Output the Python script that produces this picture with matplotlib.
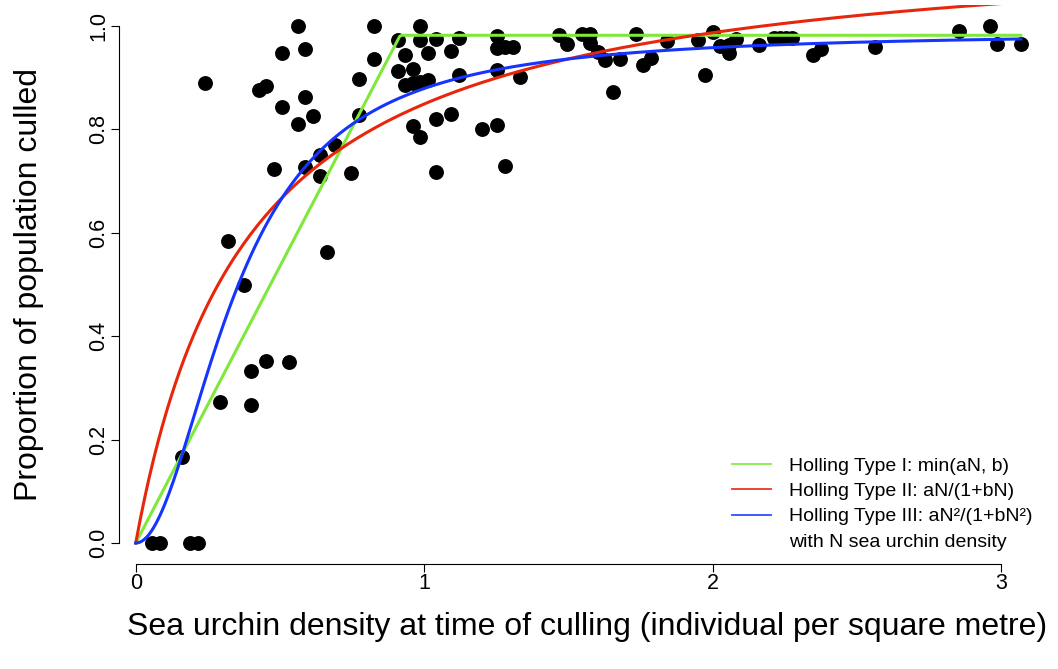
## Holling functional response fits to sea urchin culling data
import numpy as np
import matplotlib.pyplot as plt

plt.rcParams['font.family'] = ['Liberation Sans', 'DejaVu Sans']

density = [0.056, 0.083, 0.187, 0.216, 0.160, 0.293, 0.400, 0.320, 0.374, 0.663,
           0.400, 0.452, 0.533, 0.561, 0.507, 0.588, 0.241, 0.426, 0.452, 0.588,
           0.507, 0.614, 0.561, 0.640, 0.588, 0.640, 0.480, 0.827, 0.986, 0.908,
           0.986, 1.040, 1.121, 1.254, 1.254, 1.281, 1.307, 0.827, 0.934, 1.013,
           1.094, 0.908, 0.961, 0.934, 0.961, 0.986, 1.013, 1.121, 1.254, 1.333,
           0.774, 0.774, 0.692, 0.746, 0.961, 0.986, 1.040, 1.094, 1.200, 1.254,
           1.040, 1.281, 1.468, 1.547, 1.575, 1.735, 1.494, 1.573, 1.602, 1.627,
           1.679, 1.760, 1.787, 1.654, 1.841, 1.949, 2.001, 1.974, 2.026, 2.055,
           2.081, 2.055, 2.161, 2.211, 2.235, 2.255, 2.275, 2.347, 2.375, 2.561,
           2.855, 2.962, 2.987, 3.068]
culled = [0.0, 0.0, 0.0, 0.0, 0.167, 0.273, 0.267, 0.584, 0.500, 0.562,
          0.333, 0.353, 0.351, 1.0, 0.948, 0.955, 0.889, 0.876, 0.883, 0.863,
          0.843, 0.826, 0.810, 0.750, 0.728, 0.709, 0.723, 1.0, 1.0, 0.972,
          0.973, 0.974, 0.976, 0.981, 0.957, 0.959, 0.959, 0.936, 0.944, 0.948,
          0.952, 0.913, 0.917, 0.886, 0.890, 0.892, 0.896, 0.905, 0.915, 0.901,
          0.897, 0.828, 0.770, 0.715, 0.807, 0.785, 0.821, 0.830, 0.800, 0.809,
          0.718, 0.730, 0.983, 0.984, 0.984, 0.985, 0.965, 0.967, 0.950, 0.934,
          0.936, 0.925, 0.939, 0.872, 0.971, 0.973, 0.988, 0.905, 0.961, 0.963,
          0.974, 0.948, 0.963, 0.977, 0.977, 0.977, 0.977, 0.944, 0.955, 0.959,
          0.991, 1.0, 0.965, 0.965]

## fitted parameters
t1_a, t1_b = 1.071, 0.982
t2_a, t2_b = 3.04, 2.58
t3_a, t3_b = 8.0, 8.1

labels = ['Holling Type I: min(aN, b)',
          'Holling Type II: aN/(1+bN)',
          'Holling Type III: aN\u00b2/(1+bN\u00b2)',
          'with N sea urchin density']

N = np.linspace(0, max(density), 400)
type1 = np.minimum(t1_a * N, t1_b)
type2 = t2_a * N / (1 + t2_b * N)
type3 = t3_a * N**2 / (1 + t3_b * N**2)

fig = plt.figure(figsize=(10.58, 6.69), dpi=100)
ax = fig.add_axes([119/1058, 1 - 563.7/669, (1056-119)/1058, (563.7-5.3)/669])

ax.scatter(density, culled, s=115, color='black', zorder=2, linewidths=0)
ax.plot(N, type1, color='#7fe83a', lw=2.2, zorder=3)
ax.plot(N, type2, color='#e8260c', lw=2.2, zorder=3)
ax.plot(N, type3, color='#1535ff', lw=2.2, zorder=3)

ax.set_xlim(-0.058, 3.19)
ax.set_ylim(-0.04, 1.04)
ax.set_xticks([0, 1, 2, 3])
ax.set_yticks([0, 0.2, 0.4, 0.6, 0.8, 1.0])
ax.set_yticklabels(['0.0', '0.2', '0.4', '0.6', '0.8', '1.0'])
for s in ['top', 'right']:
    ax.spines[s].set_visible(False)
ax.spines['left'].set_bounds(0, 1)
ax.spines['bottom'].set_bounds(0, 3)
ax.spines['left'].set_linewidth(0.8)
ax.spines['bottom'].set_linewidth(0.8)
ax.tick_params(length=6, width=0.8, labelsize=15.5, pad=1)
ax.tick_params(axis='y', labelrotation=90)
for t in ax.get_yticklabels():
    t.set_va('center')

ax.set_xlabel('Sea urchin density at time of culling (individual per square metre)',
              fontsize=23, labelpad=13)
ax.set_ylabel('Proportion of population culled', fontsize=23, labelpad=32)

## legend, no box
h1, = ax.plot([], [], color='#86ea4a', lw=1.3)
h2, = ax.plot([], [], color='#e8361e', lw=1.3)
h3, = ax.plot([], [], color='#2f4cff', lw=1.3)
h4, = ax.plot([], [], color='none')
ax.legend([h1, h2, h3, h4], labels, loc='upper left',
          bbox_to_anchor=(732/1058, 1 - 457/669), bbox_transform=fig.transFigure,
          frameon=False, fontsize=14, handlelength=2.0, handletextpad=0.95,
          labelspacing=0.4, borderpad=0, borderaxespad=0)

fig.savefig('out.png', dpi=100)
